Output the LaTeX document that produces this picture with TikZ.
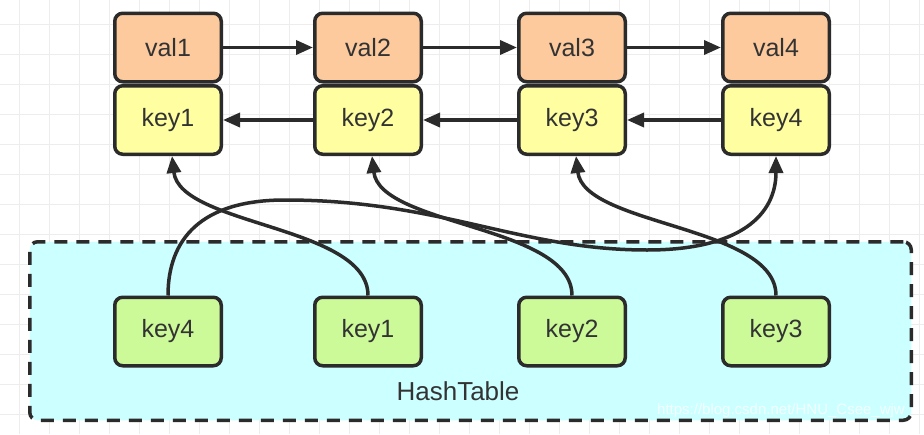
\documentclass[tikz,border=0pt]{standalone}
\usepackage{fontspec}
\setmainfont{Liberation Sans}
\usetikzlibrary{arrows.meta}
\definecolor{linec}{HTML}{2B2B2B}
\definecolor{textc}{HTML}{333333}
\definecolor{valc}{HTML}{FDCA9E}
\definecolor{keyc}{HTML}{FFFFA1}
\definecolor{hkc}{HTML}{CCFA99}
\definecolor{hashc}{HTML}{CCFFFF}
\definecolor{gridc}{HTML}{EDEDED}
\begin{document}
\begin{tikzpicture}[x=1pt,y=-1pt,
  box/.style={draw=linec, line width=3.5pt, rounded corners=8pt, minimum width=106.5pt, minimum height=68.5pt, inner sep=0pt, font=\fontsize{25}{29}\selectfont, text=textc},
  valbox/.style={box, fill=valc},
  keybox/.style={box, fill=keyc},
  hbox/.style={box, fill=hkc},
  hashframe/.style={draw=linec, fill=hashc, line width=3.5pt, rounded corners=8pt, dash pattern=on 13pt off 9pt, minimum width=881.5pt, minimum height=178.5pt, inner sep=0pt},
  link/.style={draw=linec, line width=3.5pt, -{Triangle[length=17pt,width=14pt]}},
]
\useasboundingbox (0,0) rectangle (924,434);
\fill[white] (0,0) rectangle (924,434);
% grid
\foreach \gx in {19,49,...,919} \draw[gridc, line width=1pt] (\gx,0) -- (\gx,434);
\foreach \gy in {24,54,...,434} \draw[gridc, line width=1pt] (0,\gy) -- (924,\gy);
% hash table
\node[hashframe] (ht) at (470.5,331) {};
\node[font=\fontsize{26}{30}\selectfont, text=textc] (htl) at (458,391) {HashTable};
% bottom keys
\node[hbox] (b1) at (168,331.5) {key4};
\node[hbox] (b2) at (368,331.5) {key1};
\node[hbox] (b3) at (572,331.5) {key2};
\node[hbox] (b4) at (776,331.5) {key3};
% top boxes
\node[valbox] (v1) at (168,47.5) {val1};
\node[valbox] (v2) at (368,47.5) {val2};
\node[valbox] (v3) at (572,47.5) {val3};
\node[valbox] (v4) at (776,47.5) {val4};
\node[keybox] (k1) at (168,120) {key1};
\node[keybox] (k2) at (368,120) {key2};
\node[keybox] (k3) at (572,120) {key3};
\node[keybox] (k4) at (776,120) {key4};
% curves
\draw[link] (b2.north) .. controls +(0,-70) and +(8,70) .. ([xshift=4pt]k1.south);
\draw[link] (b3.north) .. controls +(0,-70) and +(8,70) .. ([xshift=4pt]k2.south);
\draw[link] (b4.north) .. controls +(0,-70) and +(8,70) .. ([xshift=4pt]k3.south);
\draw[link] (b1.north) .. controls (168,240) and (200,200) .. (285,200)
  .. controls (440,200) and (520,250) .. (647,250)
  .. controls (740,250) and (776,215) .. (k4.south);
% straight links
\draw[link] (v1) -- (v2);
\draw[link] (v2) -- (v3);
\draw[link] (v3) -- (v4);
\draw[link] (k2) -- (k1);
\draw[link] (k3) -- (k2);
\draw[link] (k4) -- (k3);
% watermark
\node[text=white, opacity=0.75, font=\fontsize{15}{18}\selectfont] (wm) at (781,411) {https://blog.csdn.net/HNU\_Csee\_wjw};
\end{tikzpicture}
\end{document}
